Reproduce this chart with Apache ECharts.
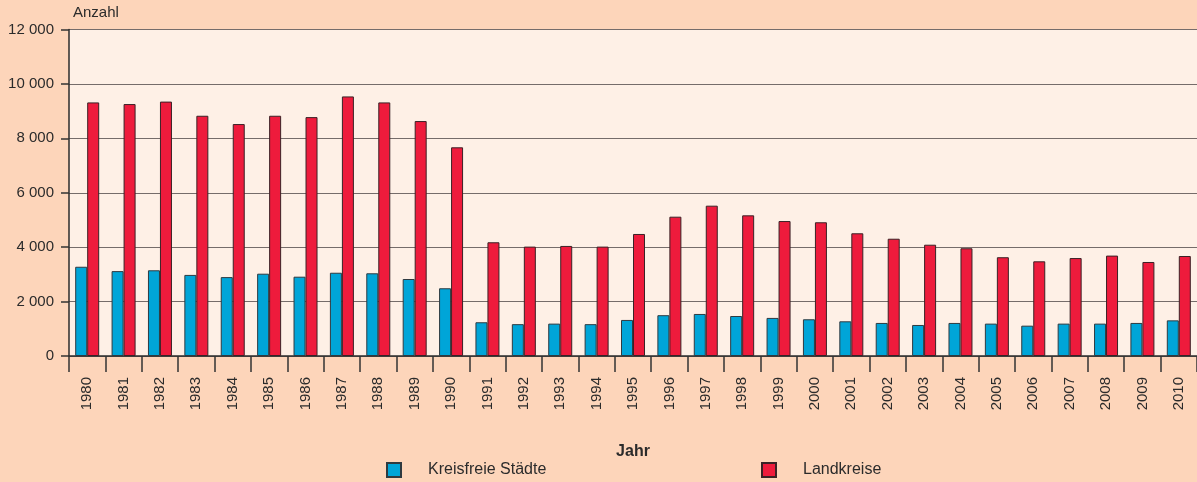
<!DOCTYPE html>
<html>
<head>
<meta charset="utf-8">
<script src="https://cdn.jsdelivr.net/npm/echarts@6/dist/echarts.min.js"></script>
<style>
html,body{margin:0;padding:0;background:#fdd5ba;}
#c{width:1197px;height:482px;}
</style>
</head>
<body>
<div id="c"></div>
<script>
const years = ['1980','1981','1982','1983','1984','1985','1986','1987','1988','1989','1990',
  '1991','1992','1993','1994','1995','1996','1997','1998','1999','2000',
  '2001','2002','2003','2004','2005','2006','2007','2008','2009','2010'];
const kreisfreieStaedte = [3280,3120,3150,2980,2900,3025,2915,3060,3040,2830,2490,
  1240,1170,1190,1170,1325,1500,1545,1470,1400,1350,
  1275,1215,1140,1215,1190,1115,1190,1190,1215,1310];
const landkreise = [9320,9260,9350,8830,8525,8830,8780,9540,9320,8635,7670,
  4180,4020,4045,4020,4485,5120,5525,5170,4960,4915,
  4510,4310,4090,3960,3630,3480,3600,3690,3455,3675];
const yTicks = {min: 0, max: 12000, interval: 2000};

const chart = echarts.init(document.getElementById('c'));
const txt = '#2b2b2b';
chart.setOption({
  backgroundColor: '#fdd5ba',
  textStyle: {fontFamily: 'Liberation Sans, Arial, sans-serif'},
  animation: false,
  grid: {left: 69, right: 0, top: 29.5, bottom: 126, show: true, backgroundColor: '#fef0e6', borderWidth: 0},
  legend: [
    {data: ['Kreisfreie Städte'], left: 386, top: 462, itemWidth: 14, itemHeight: 14, padding: 0,
     textStyle: {color: txt, fontSize: 16, padding: [0,0,0,22]}, icon: 'rect'},
    {data: ['Landkreise'], left: 761, top: 462, itemWidth: 14, itemHeight: 14, padding: 0,
     textStyle: {color: txt, fontSize: 16, padding: [0,0,0,22]}, icon: 'rect'}
  ],
  xAxis: {
    type: 'category', data: years,
    name: 'Jahr', nameLocation: 'middle', nameGap: 88,
    nameTextStyle: {fontWeight: 'bold', fontSize: 16, color: txt},
    axisLine: {lineStyle: {color: '#2b2b2b', width: 1.5}},
    axisTick: {show: true, interval: 0, length: 16, lineStyle: {color: '#333', width: 1.5}},
    axisLabel: {rotate: 90, interval: 0, margin: 21, fontSize: 15, color: txt}
  },
  yAxis: {
    type: 'value', min: yTicks.min, max: yTicks.max, interval: yTicks.interval,
    name: 'Anzahl', nameLocation: 'end', nameGap: 9,
    nameTextStyle: {fontSize: 15, color: txt, align: 'left', padding: [0,0,0,4]},
    axisLine: {show: true, lineStyle: {color: '#2b2b2b', width: 1.5}},
    axisTick: {show: true, length: 8, lineStyle: {color: '#333', width: 1.5}},
    axisLabel: {fontSize: 15, color: txt, margin: 15,
      formatter: v => String(v).replace(/\B(?=(\d{3})+(?!\d))/g, ' ')},
    splitLine: {lineStyle: {color: '#756c6a', width: 1.2}}
  },
  series: [
    {name: 'Kreisfreie Städte', type: 'bar', data: kreisfreieStaedte, barWidth: 12, barGap: '0%',
     itemStyle: {color: '#00a5d8', borderColor: '#2f3a40', borderWidth: 1}},
    {name: 'Landkreise', type: 'bar', data: landkreise, barWidth: 12, barGap: '0%',
     itemStyle: {color: '#ee1b3c', borderColor: '#3a2226', borderWidth: 1}}
  ]
});
</script>
</body>
</html>
